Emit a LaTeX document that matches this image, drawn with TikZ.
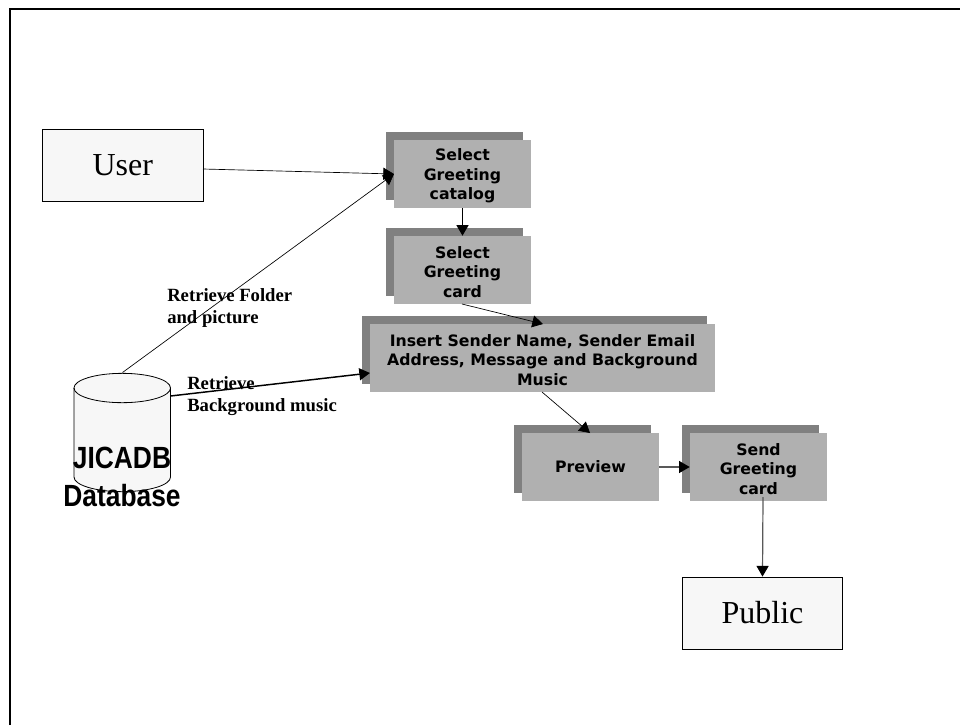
\documentclass[tikz,border=0pt]{standalone}
\usepackage{fontspec}
\setmainfont{Liberation Serif}
\newfontfamily\verdanafont{DejaVu Sans}
\newfontfamily\arialfont[FakeStretch=0.86]{Liberation Sans}
\usetikzlibrary{arrows.meta}
\newcommand\stepgap{\rule{0pt}{12pt}}
\colorlet{stepfront}{black!31}
\colorlet{stepback}{black!50}
\colorlet{actorfill}{black!3}
\tikzstyle{actor}=[draw,line width=.6pt,fill=actorfill,minimum width=120.5pt,minimum height=54pt,inner sep=0pt,font=\fontsize{24}{28}\selectfont]
\tikzstyle{stepbox}=[fill=stepfront,inner sep=0pt,minimum height=51pt,align=center,font=\verdanafont\bfseries\fontsize{11.8}{14.5}\selectfont]
\tikzstyle{stepshade}=[fill=stepback,inner sep=0pt,minimum height=51pt]
\tikzstyle{note}=[anchor=north west,align=left,inner sep=0pt,font=\bfseries\fontsize{14}{16.8}\selectfont]
\tikzstyle{flow}=[line width=.5pt,-{Triangle[length=8pt,width=9pt,black]}]
\tikzstyle{flowb}=[line width=1.1pt,-{Triangle[length=8pt,width=9pt,black]}]
\tikzstyle{flowg}=[line width=.9pt,black!65,-{Triangle[length=8pt,width=9pt,black]}]
\begin{document}
\begin{tikzpicture}[x=.75pt,y=-.75pt]
	\useasboundingbox (0,0) rectangle (960,725);
	\draw[line width=1.5pt] (10,725) -- (10,9) -- (960,9);
	% actors
	\node[actor] (user) at (122.75,165) {User};
	\node[actor] (public) at (762.5,613) {Public};
	% steps
	\node[stepshade,minimum width=102.75pt] at (454.5,166) {};
	\node[stepbox,minimum width=102.75pt] (catalog) at (462.5,174) {\stepgap Select\\Greeting\\catalog};
	\node[stepshade,minimum width=102.75pt] at (454.5,262) {};
	\node[stepbox,minimum width=102.75pt] (card) at (462.5,270) {\stepgap Select\\Greeting\\card};
	\node[stepshade,minimum width=258.75pt] at (534.5,350) {};
	\node[stepbox,minimum width=258.75pt] (insert) at (542.5,358) {\stepgap Insert Sender Name, Sender Email\\Address, Message and Background\\Music};
	\node[stepshade,minimum width=102.75pt] at (582.5,459) {};
	\node[stepbox,minimum width=102.75pt] (preview) at (590.5,467) {Preview};
	\node[stepshade,minimum width=102.75pt] at (750.5,459) {};
	\node[stepbox,minimum width=102.75pt] (send) at (758.5,467) {\stepgap Send\\Greeting\\card};
	% database
	\draw[line width=.6pt,fill=actorfill] (74,388) -- (74,477) arc[start angle=180,end angle=360,x radius=36.2pt,y radius=11pt] -- (170.5,388) arc[start angle=0,end angle=180,x radius=36.2pt,y radius=11pt] -- cycle;
	\draw[line width=.6pt] (74,388) arc[start angle=180,end angle=360,x radius=36.2pt,y radius=11pt];
	\node[align=center,font=\arialfont\bfseries\fontsize{23}{28.5}\selectfont] (dblabel) at (122,477) {JICADB\\Database};
	% connectors
	\coordinate (catalogin) at (394,174);
	\coordinate (userout) at (203,169);
	\coordinate (dbtop) at (122.5,372.5);
	\coordinate (dbside) at (170.5,396);
	\coordinate (cardout) at (462,304);
	\coordinate (insertin) at (543,324);
	\coordinate (insertside) at (370,373);
	\coordinate (insertout) at (542,392);
	\coordinate (previewin) at (590,433);
	\coordinate (sendout) at (763,497);
	\draw[flow] (userout) -- (catalogin);
	\draw[flow] (dbtop) -- (catalogin);
	\draw[flowb] (catalog.south) -- (card.north);
	\draw[flow] (cardout) -- (insertin);
	\draw[flowb] (dbside) -- (insertside);
	\draw[flow] (insertout) -- (previewin);
	\draw[flowg] (preview.east) -- (send.west);
	\draw[flowg] (sendout) -- (public.north);
	% labels
	\node[note] (folder) at (167,288) {Retrieve Folder\\and picture};
	\node[note] (music) at (187,376) {Retrieve\\Background music};
\end{tikzpicture}
\end{document}
